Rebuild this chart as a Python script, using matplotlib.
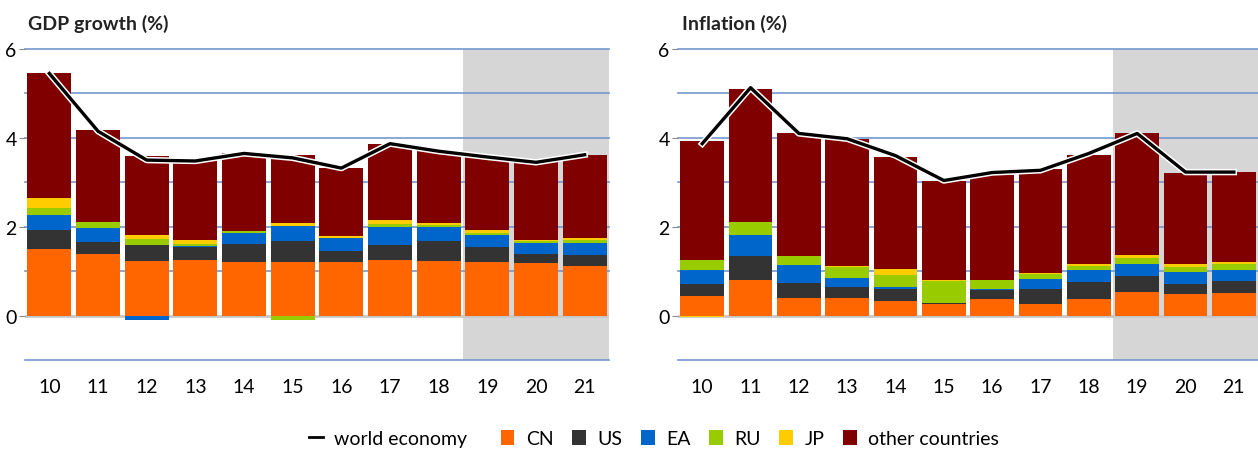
import matplotlib
matplotlib.use("Agg")
import matplotlib.pyplot as plt
import matplotlib.patheffects as pe
from matplotlib.lines import Line2D
from matplotlib.patches import Patch
import numpy as np

plt.rcParams['font.family'] = ['Lato', 'DejaVu Sans']

years = ["10", "11", "12", "13", "14", "15", "16", "17", "18", "19", "20", "21"]
series_names = ["CN", "US", "EA", "RU", "JP", "other countries"]
colors = ["#FF6600", "#333333", "#0066CC", "#99CC00", "#FFCC00", "#800000"]

# GDP growth contributions
gdp_cn = [1.50, 1.39, 1.23, 1.26, 1.21, 1.21, 1.21, 1.26, 1.23, 1.21, 1.19, 1.12]
gdp_us = [0.43, 0.27, 0.36, 0.29, 0.41, 0.47, 0.25, 0.33, 0.45, 0.34, 0.20, 0.25]
gdp_ea = [0.34, 0.32, -0.11, 0.02, 0.24, 0.34, 0.29, 0.41, 0.32, 0.27, 0.25, 0.27]
gdp_ru = [0.16, 0.13, 0.14, 0.05, 0.05, -0.09, 0.00, 0.07, 0.05, 0.04, 0.04, 0.07]
gdp_jp = [0.22, 0.00, 0.09, 0.09, 0.00, 0.07, 0.05, 0.09, 0.04, 0.07, 0.03, 0.04]
gdp_other = [2.82, 2.06, 1.78, 1.76, 1.74, 1.53, 1.53, 1.71, 1.62, 1.65, 1.76, 1.87]
gdp_world = [5.45, 4.15, 3.50, 3.48, 3.65, 3.55, 3.32, 3.87, 3.70, 3.57, 3.45, 3.62]

# Inflation contributions
inf_cn = [0.44, 0.80, 0.40, 0.40, 0.33, 0.26, 0.38, 0.26, 0.38, 0.53, 0.49, 0.51]
inf_us = [0.27, 0.55, 0.34, 0.25, 0.27, 0.03, 0.20, 0.34, 0.38, 0.36, 0.22, 0.27]
inf_ea = [0.32, 0.47, 0.40, 0.20, 0.05, 0.00, 0.02, 0.23, 0.27, 0.28, 0.27, 0.25]
inf_ru = [0.23, 0.29, 0.21, 0.25, 0.27, 0.49, 0.20, 0.11, 0.09, 0.13, 0.12, 0.14]
inf_jp = [-0.04, 0.00, 0.00, 0.02, 0.13, 0.02, 0.00, 0.02, 0.05, 0.07, 0.07, 0.04]
inf_other = [2.66, 3.00, 2.75, 2.86, 2.53, 2.24, 2.36, 2.33, 2.45, 2.73, 2.05, 2.03]
inf_world = [3.87, 5.13, 4.10, 3.98, 3.60, 3.04, 3.22, 3.27, 3.65, 4.10, 3.23, 3.23]

fig = plt.figure(figsize=(12.58, 4.52), dpi=100)
ax1 = fig.add_axes([0.0199, 0.2013, 0.4642, 0.688])
ax2 = fig.add_axes([0.539, 0.2013, 0.461, 0.688])

def draw(ax, comps, world, title, title_x):
    x = np.arange(len(years))
    ax.set_xlim(-0.5, len(years) - 0.5)
    ax.set_ylim(-1, 6)
    ax.axvspan(8.5, len(years) - 0.5, color="#D6D6D6", zorder=0, lw=0)
    for yv in [-1, 1, 2, 3, 4, 5, 6]:
        ax.axhline(yv, color="#7398CC", lw=1.2, zorder=0.5, clip_on=False)
    pos = np.zeros(len(years))
    neg = np.zeros(len(years))
    for vals, c in zip(comps, colors):
        v = np.array(vals)
        bottom = np.where(v >= 0, pos, neg)
        ax.bar(x, v, bottom=bottom, width=0.9, color=c, zorder=2, lw=0)
        pos = pos + np.where(v >= 0, v, 0)
        neg = neg + np.where(v < 0, v, 0)
    ax.axhline(0, color="#C8C8C8", lw=2, zorder=1.5)
    ax.plot(x, world, color="black", lw=2.4, zorder=4,
            path_effects=[pe.Stroke(linewidth=4.6, foreground="white"), pe.Normal()])
    for s in ax.spines.values():
        s.set_visible(False)
    ax.set_yticks([0, 2, 4, 6])
    ax.set_xticks(x)
    ax.set_xticklabels(years)
    ax.tick_params(axis="y", length=4, color="#888888", labelsize=14, pad=2)
    ax.tick_params(axis="x", length=0, labelsize=14, pad=13)
    fig.text(title_x, 0.947, title, fontsize=14, fontweight="bold", color="#222222",
             va="center", ha="left")

draw(ax1, [gdp_cn, gdp_us, gdp_ea, gdp_ru, gdp_jp, gdp_other], gdp_world,
     "GDP growth (%)", 0.022)
draw(ax2, [inf_cn, inf_us, inf_ea, inf_ru, inf_jp, inf_other], inf_world,
     "Inflation (%)", 0.542)

handles = [Line2D([0], [0], color="black", lw=2)]
handles += [Patch(facecolor=c, edgecolor="none") for c in colors]
labels = ["world economy   "] + series_names
fig.legend(handles, labels, loc="center", bbox_to_anchor=(0.52, 0.027), ncol=7,
           frameon=False, fontsize=14, handlelength=0.7, handleheight=0.8,
           handletextpad=0.6, columnspacing=0.95)

fig.savefig("out.png", dpi=100)
